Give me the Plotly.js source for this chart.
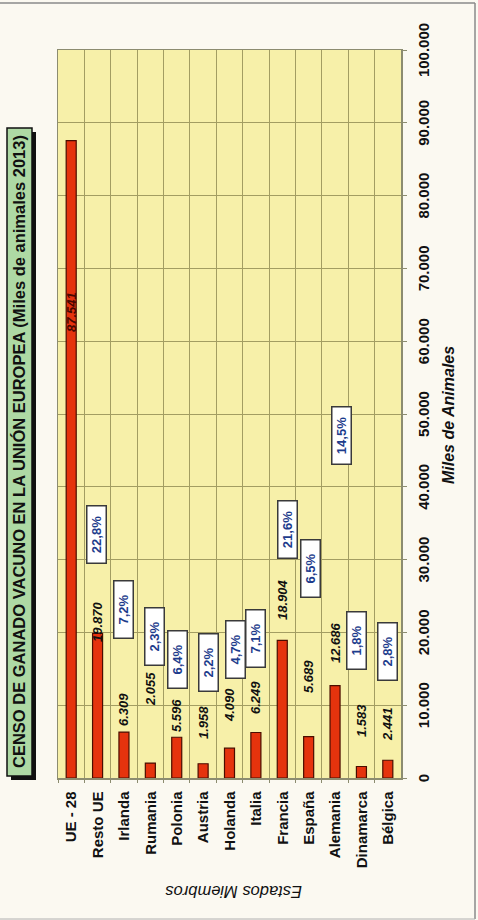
<!DOCTYPE html>
<html>
<head>
<meta charset="utf-8">
<script src="https://cdn.plot.ly/plotly-3.0.1.min.js"></script>
<style>
  html, body { margin: 0; padding: 0; width: 478px; height: 920px; overflow: hidden; background: #fbf9f1; }
  #wrap { position: absolute; left: 0; top: 0; width: 920px; height: 478px;
          transform-origin: 0 0; transform: translateY(920px) rotate(-90deg); }
</style>
</head>
<body>
<div id="wrap"><div id="chart" style="width:920px;height:478px;"></div></div>
<script>
// ---- data ----
const categories = ['UE - 28', 'Resto UE', 'Irlanda', 'Rumania', 'Polonia', 'Austria', 'Holanda', 'Italia', 'Francia', 'España', 'Alemania', 'Dinamarca', 'Bélgica'];
const values = [87541, 19870, 6309, 2055, 5596, 1958, 4090, 6249, 18904, 5689, 12686, 1583, 2441];
const shareLabels = ['', '22,8%', '7,2%', '2,3%', '6,4%', '2,2%', '4,7%', '7,1%', '21,6%', '6,5%', '14,5%', '1,8%', '2,8%'];
const valueTicks = [0, 10000, 20000, 30000, 40000, 50000, 60000, 70000, 80000, 90000, 100000];
const titleText = 'CENSO DE GANADO VACUNO EN LA UNIÓN EUROPEA (Miles de animales 2013)';
const valueAxisTitle = 'Miles de Animales';
const categoryAxisTitle = 'Estados Miembros';

// ---- label placement (layout only) ----
const valueLabelAt = [64000, 21450, 9350, 12200, 8600, 7650, 10050, 11100, 24450, 13950, 18550, 7950, 7400];
const shareBoxAt = [null, 33400, 23100, 19400, 16300, 15900, 17600, 19200, 34100, 28800, 47100, 18900, 17400];
const shareBoxDown = [0, -1.5, 0, 4.5, 0.7, 5, 6, 0, 5.7, 2.3, 6, -5, 0];

function fmt(v) { return String(v).replace(/\B(?=(\d{3})+(?!\d))/g, '.'); }

const FONT = 'Liberation Sans, Arial, sans-serif';
// plot area in original frame: X 142..870, Y 58..401
const L = 142, R = 870, T = 58, B = 401;
const px = X => (X - L) / (R - L);
const py = Y => (B - Y) / (B - T);

const annotations = [];
categories.forEach((c, i) => {
  annotations.push({
    x: valueLabelAt[i], y: c, xref: 'x', yref: 'y', showarrow: false,
    text: '<b><i>' + fmt(values[i]) + '</i></b>',
    font: { family: FONT, size: 13, color: i === 0 ? '#4a0800' : '#111111' },
    xanchor: 'center', yanchor: 'middle'
  });
  if (shareBoxAt[i] !== null) {
    annotations.push({
      x: shareBoxAt[i], y: c, xref: 'x', yref: 'y', showarrow: false,
      yshift: -shareBoxDown[i],
      text: '<b>' + shareLabels[i] + '</b>',
      font: { family: FONT, size: 13, color: '#1d3c8c' },
      bgcolor: '#ffffff', bordercolor: '#3a3a3a', borderwidth: 1.5, borderpad: 1,
      width: 54, height: 16, xanchor: 'center', yanchor: 'middle'
    });
  }
});
annotations.push({
  x: px(468), y: py(19.5), xref: 'paper', yref: 'paper', showarrow: false,
  text: '<b>' + titleText + '</b>', font: { family: FONT, size: 16.5, color: '#111' },
  xanchor: 'center', yanchor: 'middle'
});
annotations.push({
  x: px(505), y: py(448), xref: 'paper', yref: 'paper', showarrow: false,
  text: '<b><i>' + valueAxisTitle + '</i></b>', font: { family: FONT, size: 16, color: '#111' },
  xanchor: 'center', yanchor: 'middle'
});
annotations.push({
  x: px(28), y: py(234), xref: 'paper', yref: 'paper', showarrow: false, textangle: -90,
  text: '<i>' + categoryAxisTitle + '</i>', font: { family: FONT, size: 16.5, color: '#111' },
  xanchor: 'center', yanchor: 'middle'
});

const shapes = [
  // title shadow + box
  { type: 'rect', xref: 'paper', yref: 'paper', x0: px(140), x1: px(788), y0: py(36), y1: py(11),
    fillcolor: '#111', line: { width: 0 }, layer: 'above' },
  { type: 'rect', xref: 'paper', yref: 'paper', x0: px(144), x1: px(792), y0: py(32), y1: py(7),
    fillcolor: '#aed9a4', line: { color: '#111', width: 1.5 }, layer: 'above' },
  // page frame
  { type: 'line', xref: 'paper', yref: 'paper', x0: px(917), x1: px(917), y0: py(475), y1: py(0),
    line: { color: '#8a8a8a', width: 1.5 } },
  { type: 'line', xref: 'paper', yref: 'paper', x0: px(1), x1: px(917), y0: py(475), y1: py(475),
    line: { color: '#8a8a8a', width: 1.5 } },
  { type: 'line', xref: 'paper', yref: 'paper', x0: px(1), x1: px(1), y0: py(475), y1: py(0),
    line: { color: '#b0b0b0', width: 1 } }
];

const trace = {
  type: 'bar', orientation: 'h', x: values, y: categories,
  marker: { color: '#e5330d', line: { color: '#4a0d00', width: 1.2 } },
  hoverinfo: 'x+y'
};

const layout = {
  width: 920, height: 478,
  margin: { l: L, r: 920 - R, t: T, b: 478 - B },
  paper_bgcolor: 'rgba(0,0,0,0)', plot_bgcolor: '#f7f0a9',
  separators: ',.',
  bargap: 0.62,
  showlegend: false,
  xaxis: {
    range: [0, 100000], tickvals: valueTicks, tickformat: ',d',
    showgrid: true, gridcolor: '#a39d62', gridwidth: 1,
    zeroline: false, showline: true, linecolor: '#8c8c70', linewidth: 1.5, mirror: true,
    ticks: 'outside', ticklen: 4, tickcolor: '#8c8c70',
    tickfont: { family: FONT, size: 15, color: '#111', weight: 'bold' },
    ticklabelstandoff: 4
  },
  yaxis: {
    type: 'category', autorange: 'reversed', tickson: 'boundaries',
    showgrid: true, gridcolor: '#a39d62', gridwidth: 1,
    showline: true, linecolor: '#8c8c70', linewidth: 1.5, mirror: true,
    ticks: 'outside', ticklen: 3, tickcolor: '#8c8c70',
    tickfont: { family: FONT, size: 15, color: '#111', weight: 'bold' },
    ticklabelstandoff: 9
  },
  annotations: annotations,
  shapes: shapes
};

Plotly.newPlot('chart', [trace], layout, { displayModeBar: false, staticPlot: true });
</script>
</body>
</html>
